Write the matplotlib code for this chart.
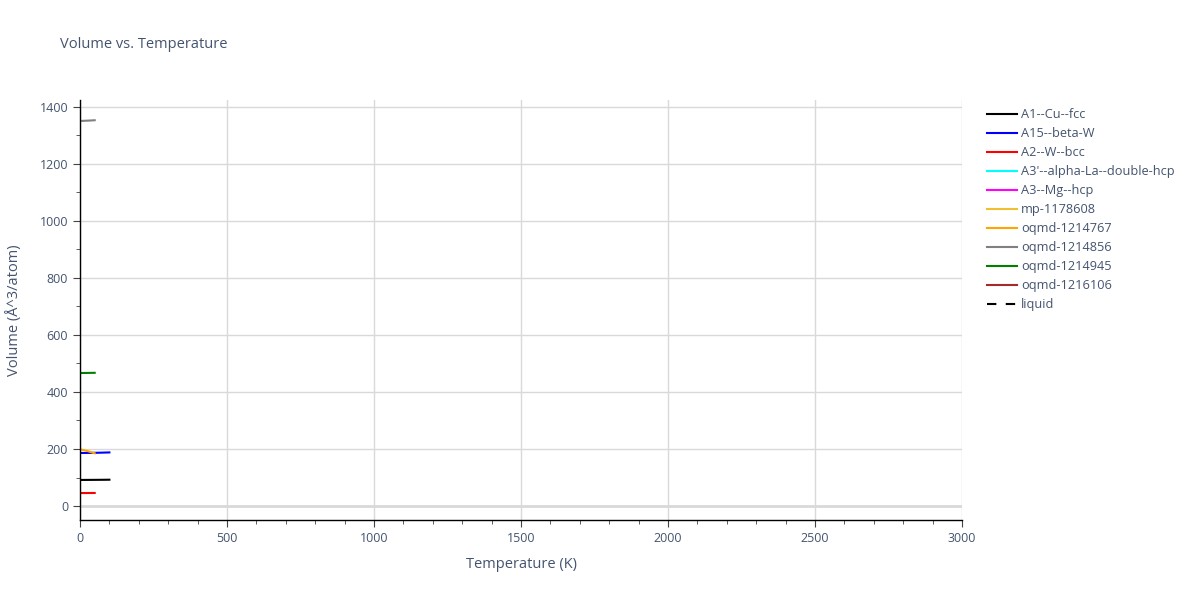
import matplotlib
matplotlib.use("Agg")
import matplotlib.pyplot as plt
from matplotlib.ticker import MultipleLocator

plt.rcParams['font.family'] = ['Open Sans', 'DejaVu Sans']

# Series (temperature K, volume Å^3/atom)
names = ["A1--Cu--fcc", "A15--beta-W", "A2--W--bcc", "A3'--alpha-La--double-hcp",
         "A3--Mg--hcp", "mp-1178608", "oqmd-1214767", "oqmd-1214856",
         "oqmd-1214945", "oqmd-1216106"]
colors = ["black", "blue", "red", "cyan", "magenta", "#f0c030", "orange",
          "gray", "green", "brown"]
temps = {
    "A1--Cu--fcc": [0, 25, 50, 75, 100],
    "A15--beta-W": [0, 25, 50, 75, 100],
    "A2--W--bcc": [0, 25, 50],
    "A3'--alpha-La--double-hcp": [],
    "A3--Mg--hcp": [],
    "mp-1178608": [],
    "oqmd-1214767": [0, 25, 50],
    "oqmd-1214856": [0, 25, 50],
    "oqmd-1214945": [0, 25, 50],
    "oqmd-1216106": [],
}
volumes = {
    "A1--Cu--fcc": [91.5, 91.6, 91.8, 92.0, 92.3],
    "A15--beta-W": [186.0, 186.2, 186.6, 187.2, 188.0],
    "A2--W--bcc": [45.5, 45.6, 45.8],
    "A3'--alpha-La--double-hcp": [],
    "A3--Mg--hcp": [],
    "mp-1178608": [],
    "oqmd-1214767": [199.0, 193.0, 185.0],
    "oqmd-1214856": [1350.5, 1351.5, 1353.0],
    "oqmd-1214945": [466.5, 466.8, 467.2],
    "oqmd-1216106": [],
}

text_col = "#44546f"
fig = plt.figure(figsize=(12, 6), dpi=100)
ax = fig.add_axes([80 / 1200, 80 / 600, 882 / 1200, 420 / 600])

for name, c in zip(names, colors):
    ax.plot(temps[name], volumes[name], color=c, lw=1.5, label=name)
ax.plot([], [], color="black", lw=1.5, ls=(0, (4.5, 4.5)), label="liquid")

ax.set_xlim(0, 3000)
ax.set_ylim(-49, 1424)
ax.xaxis.set_major_locator(MultipleLocator(500))
ax.xaxis.set_minor_locator(MultipleLocator(100))
ax.yaxis.set_major_locator(MultipleLocator(200))
ax.yaxis.set_minor_locator(MultipleLocator(100))
ax.grid(True, which="major", color="#d9d9d9", lw=1)
ax.axhline(0, color="#d9d9d9", lw=2, zorder=0)
ax.set_axisbelow(True)
for s in ["top", "right"]:
    ax.spines[s].set_visible(False)
for s in ["left", "bottom"]:
    ax.spines[s].set_color("black")
    ax.spines[s].set_linewidth(1)
ax.tick_params(which="major", length=5, color="#444444", labelcolor=text_col,
               labelsize=9)
ax.tick_params(which="minor", length=3, color="#444444")

ax.set_xlabel("Temperature (K)", color=text_col, fontsize=10.5, labelpad=9)
ax.set_ylabel("Volume (Å^3/atom)", color=text_col, fontsize=10.5, labelpad=13)
fig.text(60 / 1200, 1 - 45 / 600, "Volume vs. Temperature", color=text_col,
         fontsize=10.5, va="center", ha="left")

leg = ax.legend(loc="upper left", bbox_to_anchor=(1.023, 0.993), frameon=False,
                fontsize=9.2, handlelength=2.3, labelspacing=0.47,
                handletextpad=0.35, borderaxespad=0.0)
for t in leg.get_texts():
    t.set_color(text_col)

fig.savefig("out.png", dpi=100)
